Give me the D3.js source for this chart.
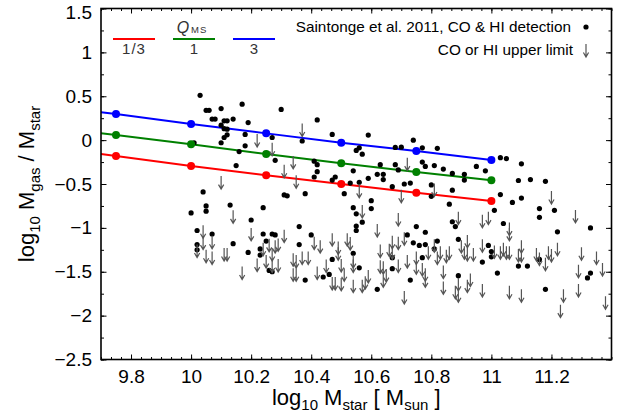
<!DOCTYPE html>
<html>
<head>
<meta charset="utf-8">
<script src="https://cdn.jsdelivr.net/npm/d3@7"></script>
<style>
  body { margin: 0; background: #fff; }
  text { font-family: "Liberation Sans", Arial, sans-serif; }
</style>
</head>
<body>
<div id="chart"></div>
<script>
const width = 618, height = 416;

// Saintonge et al. 2011 detections (log Mstar, log Mgas/Mstar)
const detMass = [10.03,10.05,10.06,10.10,10.17,10.30,10.07,10.08,10.11,10.12,10.14,10.19,10.42,10.10,10.11,10.12,10.18,10.12,10.11,10.10,
  10.27,10.37,10.01,10.18,10.16,10.28,10.41,10.42,10.42,10.41,10.15,10.04,10.31,10.32,10.38,10.05,10.13,10.24,
  10.47,10.59,10.74,10.68,10.70,10.56,10.55,10.57,10.77,10.82,10.77,10.78,10.63,10.68,10.69,10.81,10.84,10.54,10.87,10.91,
  10.62,10.64,10.64,10.59,10.48,10.47,10.56,10.53,10.67,10.71,10.73,10.80,10.87,10.51,10.80,10.60,10.86,10.54,10.60,10.91,
  11.03,11.05,11.10,10.95,10.98,11.09,11.13,11.18,11.03,11.10,11.07,11.16,11.01,11.21,
  10.00,10.05,10.20,10.02,10.07,10.24,10.27,10.28,10.36,10.40,10.02,10.02,10.14,10.25,10.23,10.19,10.23,10.36,10.26,10.27,10.38,10.44,
  10.55,10.57,10.55,10.55,10.87,10.88,10.75,10.78,10.72,10.74,10.76,10.78,10.82,10.81,10.89,10.54,10.47,10.67,10.77,10.56,
  10.67,10.46,10.73,10.89,10.62,
  11.16,11.04,11.22,11.33,10.99,11.00,11.00,10.97,11.02,11.09,11.12,11.16,11.18,11.33,11.32];
const detGas = [0.51,0.34,0.34,0.36,0.41,0.35,0.24,0.24,0.22,0.22,0.24,0.20,0.23,0.17,0.13,0.125,0.065,0.06,0.03,-0.03,
  0.03,-0.01,-0.03,-0.065,-0.13,-0.23,-0.24,-0.28,-0.36,-0.42,-0.29,-0.59,-0.625,-0.635,-0.61,-0.75,-0.74,-0.77,
  0.065,0.057,0.0,-0.083,-0.08,-0.088,-0.117,-0.16,-0.088,-0.094,-0.25,-0.30,-0.28,-0.28,-0.34,-0.29,-0.33,-0.35,-0.38,-0.39,
  -0.39,-0.39,-0.45,-0.435,-0.42,-0.455,-0.48,-0.49,-0.53,-0.50,-0.49,-0.51,-0.57,-0.61,-0.64,-0.69,-0.73,-0.77,-0.78,-0.455,
  -0.20,-0.21,-0.27,-0.30,-0.35,-0.46,-0.45,-0.47,-0.62,-0.66,-0.71,-0.78,-0.80,-0.80,
  -0.83,-0.81,-0.91,-1.03,-1.07,-1.07,-1.07,-1.08,-0.985,-1.08,-1.19,-1.25,-1.18,-1.15,-1.24,-1.28,-1.31,-1.19,-1.485,-1.50,-1.595,-1.56,
  -0.84,-0.935,-0.98,-1.03,-0.93,-0.985,-0.985,-1.05,-1.08,-1.17,-1.20,-1.19,-1.15,-1.24,-1.13,-1.29,-1.36,-1.34,-1.34,-1.455,
  -1.465,-1.53,-1.595,-1.545,-1.70,
  -0.88,-0.95,-1.045,-1.00,-1.20,-1.27,-1.33,-1.39,-1.515,-1.435,-1.435,-1.36,-1.70,-1.515,-1.57];

// CO or HI upper limits
const limMass = [10.37,10.22,10.27,10.34,10.31,10.35,10.10,10.72,10.56,10.70,10.81,10.57,11.20,
  10.14,10.04,10.04,10.07,10.02,10.05,10.07,10.11,10.12,10.20,10.17,10.22,10.26,10.24,10.28,10.31,10.29,10.27,10.25,10.27,10.29,
  10.34,10.35,10.37,10.39,10.34,10.35,10.41,10.43,10.42,10.45,
  10.69,10.89,10.62,10.47,10.52,10.53,10.49,10.49,10.54,10.54,10.50,10.51,10.63,10.63,10.64,10.65,10.64,10.59,10.58,10.57,
  10.54,10.50,10.48,10.47,10.67,10.66,10.67,10.69,10.71,10.69,10.72,10.75,10.75,10.77,10.78,10.78,10.71,10.79,10.81,10.83,
  10.82,10.85,10.86,10.84,10.84,10.88,10.89,10.90,10.91,10.89,
  10.97,10.99,11.06,11.06,11.28,10.92,10.94,10.97,11.01,11.03,11.04,11.05,11.06,11.10,11.09,11.10,11.15,11.16,11.18,11.19,
  11.20,11.22,11.30,11.35,11.37,11.29,10.93,10.92,10.97,11.06,11.10,11.24,11.29,11.23,11.38,10.92];
const limGas = [0.19,0.07,-0.03,-0.18,-0.28,-0.40,-0.41,-0.20,-0.51,-0.565,-0.495,-0.74,-0.58,
  -0.80,-0.97,-1.10,-1.09,-1.19,-1.25,-1.27,-1.23,-1.23,-1.00,-1.44,-1.35,-1.125,-1.17,-1.14,-1.02,-1.12,-1.23,-1.31,-1.36,-1.355,
  -1.29,-1.31,-1.27,-1.27,-1.46,-1.46,-1.10,-1.14,-1.44,-1.36,
  -0.83,-0.815,-0.955,-1.06,-1.06,-1.105,-1.155,-1.22,-1.31,-1.36,-1.355,-1.46,-1.19,-1.37,-1.38,-1.47,-1.53,-1.48,-1.55,-1.59,
  -1.59,-1.57,-1.56,-1.56,-1.09,-1.18,-1.21,-1.10,-1.05,-1.36,-1.31,-1.27,-1.38,-1.40,-1.46,-1.53,-1.72,-1.21,-1.13,-1.21,
  -1.27,-1.25,-1.21,-1.43,-1.61,-1.66,-1.57,-1.14,-1.21,-1.70,
  -0.85,-0.815,-0.94,-1.00,-0.795,-1.23,-1.23,-1.13,-1.20,-1.21,-1.17,-1.21,-1.21,-1.14,-1.24,-1.24,-1.23,-1.28,-1.34,-1.21,
  -1.24,-1.17,-1.22,-1.27,-1.40,-1.42,-1.52,-1.59,-1.64,-1.66,-1.70,-1.70,-1.64,-1.875,-1.78,-1.08];

// model lines, one per Q_MS value
const modelMass = [9.7, 9.75, 10, 10.25, 10.5, 10.75, 11];
const qLabels = ["1/3", "1", "3"];
const qColors = ["#ff0000", "#008000", "#0000ff"];
const gasQThird = [-0.158, -0.181, -0.295, -0.401, -0.500, -0.599, -0.694];
const gasQOne   = [0.077, 0.058, -0.048, -0.158, -0.264, -0.364, -0.458];
const gasQThree = [0.317, 0.297, 0.183, 0.077, -0.030, -0.124, -0.227];
const modelGas = [gasQThird, gasQOne, gasQThree];

const xMajor = [9.8, 10, 10.2, 10.4, 10.6, 10.8, 11, 11.2];
const yMajor = [-2.5, -2, -1.5, -1, -0.5, 0, 0.5, 1, 1.5];

const plotLeft = 101, plotRight = 611.5, plotTop = 8.5, plotBottom = 359.5;

let x = d3.scaleLinear().domain([9.7, 11.4]).range([plotLeft, plotRight]);
let y = d3.scaleLinear().domain([-2.5, 1.5]).range([plotBottom, plotTop]);

let svg = d3.select("#chart")
  .append("svg")
  .attr("width", width)
  .attr("height", height);

let fmt = (d) => String(d).replace("-", "\u2212");

// minor ticks
let xMinor = d3.range(0, 52).map((k) => 9.7 + k / 30);
let yMinor = d3.range(-2.5, 1.51, 0.25);

function tickAxis(axis, values, size, tx, ty) {
  let g = svg.append("g")
    .attr("transform", "translate(" + tx + "," + ty + ")")
    .call(axis.tickValues(values).tickSize(size).tickFormat(""));
  g.select(".domain").remove();
  g.selectAll("line").attr("stroke", "#000").attr("stroke-width", 1);
  return g;
}

tickAxis(d3.axisBottom(x), xMinor, -2.5, 0, plotBottom);
tickAxis(d3.axisTop(x), xMinor, -2.5, 0, plotTop);
tickAxis(d3.axisLeft(y), yMinor, -3, plotLeft, 0);
tickAxis(d3.axisRight(y), yMinor, -3, plotRight, 0);

let xAxis = svg.append("g")
  .attr("transform", "translate(0," + plotBottom + ")")
  .call(d3.axisBottom(x).tickValues(xMajor).tickSizeInner(-5).tickSizeOuter(0).tickPadding(10).tickFormat(fmt));
xAxis.select(".domain").remove();
xAxis.selectAll("text").attr("font-size", 19).attr("font-family", "Liberation Sans, Arial").attr("fill", "#000");
xAxis.selectAll("line").attr("stroke", "#000");

tickAxis(d3.axisTop(x), xMajor, -5, 0, plotTop);
tickAxis(d3.axisRight(y), yMajor, -5.5, plotRight, 0);

let yAxis = svg.append("g")
  .attr("transform", "translate(" + plotLeft + ",0)")
  .call(d3.axisLeft(y).tickValues(yMajor).tickSizeInner(-5.5).tickSizeOuter(0).tickPadding(9).tickFormat(fmt));
yAxis.select(".domain").remove();
yAxis.selectAll("text").attr("font-size", 19).attr("font-family", "Liberation Sans, Arial").attr("fill", "#000");
yAxis.selectAll("line").attr("stroke", "#000");
// top label sits a little lower, kept inside the page
yAxis.selectAll(".tick").filter((d) => d === 1.5).select("text").attr("dy", "0.5em");

// model lines
let line = d3.line()
  .x((d, i) => x(modelMass[i]))
  .y((d) => y(d));

modelGas.forEach(function(series, k) {
  svg.append("path")
    .attr("d", line(series))
    .attr("fill", "none")
    .attr("stroke", qColors[k])
    .attr("stroke-width", 2);
});

// detections
let dots = svg.append("g").attr("class", "detections");
dots.selectAll("circle")
  .data(detMass)
  .enter().append("circle")
  .attr("cx", (d) => x(d))
  .attr("cy", (d, i) => y(detGas[i]))
  .attr("r", 2.6)
  .attr("fill", "#000");

// upper limits
function arrowPath(px, py) {
  return "M" + px + "," + py + "V" + (py + 13) +
    "M" + (px - 2.6) + "," + (py + 8.5) + "L" + px + "," + (py + 13) + "L" + (px + 2.6) + "," + (py + 8.5);
}

svg.append("g").attr("class", "limits")
  .selectAll("path")
  .data(limMass)
  .enter().append("path")
  .attr("d", (d, i) => arrowPath(x(d), y(limGas[i])))
  .attr("fill", "none")
  .attr("stroke", "#555")
  .attr("stroke-width", 1.2);

// markers on model lines (skip the edge point)
modelGas.forEach(function(series, k) {
  svg.append("g").selectAll("circle")
    .data(series.slice(1))
    .enter().append("circle")
    .attr("cx", (d, i) => x(modelMass[i + 1]))
    .attr("cy", (d) => y(d))
    .attr("r", 4)
    .attr("fill", qColors[k]);
});

// frame
svg.append("rect")
  .attr("x", plotLeft).attr("y", plotTop)
  .attr("width", plotRight - plotLeft).attr("height", plotBottom - plotTop)
  .attr("fill", "none")
  .attr("stroke", "#000")
  .attr("stroke-width", 1.6);

// legend for Q_MS
let qLeg = svg.append("g");
qLabels.forEach(function(lbl, k) {
  let cx = 134 + k * 60;
  qLeg.append("line")
    .attr("x1", cx - 21).attr("x2", cx + 21)
    .attr("y1", 39).attr("y2", 39)
    .attr("stroke", qColors[k]).attr("stroke-width", 2);
  qLeg.append("text")
    .attr("x", cx).attr("y", 54)
    .attr("text-anchor", "middle")
    .attr("font-family", "DejaVu Serif, serif")
    .attr("font-size", 15)
    .attr("letter-spacing", lbl.length > 1 ? 1 : 0)
    .attr("fill", "#333")
    .text(lbl);
});
let qTitle = qLeg.append("text")
  .attr("x", 192).attr("y", 33)
  .attr("text-anchor", "middle")
  .attr("font-family", "DejaVu Serif, serif")
  .attr("fill", "#333");
qTitle.append("tspan").attr("font-size", 16).attr("font-style", "italic").text("Q");
qTitle.append("tspan").attr("font-size", 9.5).attr("dx", 2).attr("letter-spacing", 1).text("MS");

// legend for data
svg.append("text")
  .attr("x", 571).attr("y", 32)
  .attr("text-anchor", "end")
  .attr("font-size", 15.3)
  .text("Saintonge et al. 2011, CO & HI detection");
svg.append("circle")
  .attr("cx", 586).attr("cy", 27)
  .attr("r", 2.6)
  .attr("fill", "#000");
svg.append("text")
  .attr("x", 573).attr("y", 55)
  .attr("text-anchor", "end")
  .attr("font-size", 15.3)
  .text("CO or HI upper limit");
svg.append("path")
  .attr("d", arrowPath(586, 44))
  .attr("fill", "none")
  .attr("stroke", "#555")
  .attr("stroke-width", 1.2);

// axis titles
let xTitle = svg.append("text")
  .attr("x", (plotLeft + plotRight) / 2).attr("y", 405)
  .attr("text-anchor", "middle")
  .attr("font-size", 22);
xTitle.append("tspan").text("log");
xTitle.append("tspan").attr("font-size", 15).attr("dy", 5).text("10");
xTitle.append("tspan").attr("dy", -5).text(" M");
xTitle.append("tspan").attr("font-size", 15).attr("dy", 5).text("star");
xTitle.append("tspan").attr("dy", -5).text(" [ M");
xTitle.append("tspan").attr("font-size", 15).attr("dy", 5).text("sun");
xTitle.append("tspan").attr("dy", -5).text(" ]");

let yTitle = svg.append("text")
  .attr("transform", "translate(34," + ((plotTop + plotBottom) / 2) + ") rotate(-90)")
  .attr("text-anchor", "middle")
  .attr("font-size", 22);
yTitle.append("tspan").text("log");
yTitle.append("tspan").attr("font-size", 15).attr("dy", 6).text("10");
yTitle.append("tspan").attr("dy", -6).text(" M");
yTitle.append("tspan").attr("font-size", 15).attr("dy", 6).text("gas");
yTitle.append("tspan").attr("dy", -6).text("  / M");
yTitle.append("tspan").attr("font-size", 15).attr("dy", 6).text("star");
</script>
</body>
</html>
